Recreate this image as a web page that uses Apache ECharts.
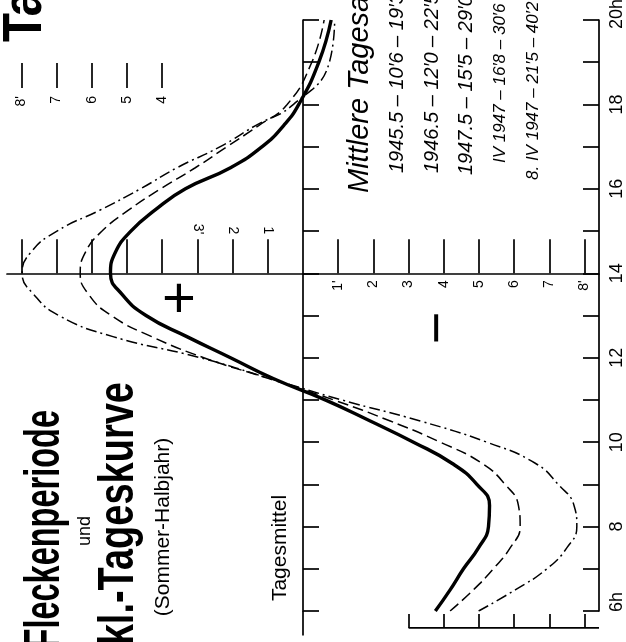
<!DOCTYPE html>
<html>
<head>
<meta charset="utf-8">
<script src="https://cdn.jsdelivr.net/npm/echarts@6/dist/echarts.min.js"></script>
<style>
  html, body { margin: 0; padding: 0; background: #fff; }
  #chart { width: 626px; height: 642px; }
</style>
</head>
<body>
<div id="chart"></div>
<script>
// hour of day and deviation from the daily mean in arc minutes (+ = left side)
const hours = [6, 6.5, 7, 7.5, 8, 8.5, 9, 9.5, 10, 10.5, 11, 11.5, 12, 12.5, 13, 13.5, 14, 14.5, 15, 15.5, 16, 16.5, 17, 17.5, 18, 19, 20];
const dev1945 = [-3.76, -4.18, -4.56, -4.99, -5.27, -5.3, -4.94, -4.23, -3.14, -1.91, -0.63, 0.83, 2.06, 3.3, 4.46, 5.14, 5.47, 5.33, 4.89, 4.2, 3.34, 2.06, 1.16, 0.55, 0.12, -0.45, -0.8];
const dev1946 = [-4.18, -4.84, -5.41, -5.89, -6.17, -6.12, -5.74, -5.08, -3.9, -2.48, -0.87, 0.95, 2.82, 4.3, 5.45, 6.09, 6.33, 6.18, 5.71, 4.95, 4.05, 3.06, 2.16, 1.26, 0.45, -0.25, -0.6];
const dev1947 = [-4.99, -6.03, -6.93, -7.5, -7.78, -7.7, -7.25, -6.6, -5.22, -3.33, -1.1, 0.91, 2.92, 5.4, 6.94, 7.65, 7.98, 7.73, 6.99, 5.76, 4.62, 3.58, 2.35, 1.35, 0.27, -0.75, -0.9];

const hourMarks = [6, 8, 10, 12, 14, 16, 18, 20];
const scaleTicks = [-8, -7, -6, -5, -4, -3, -2, -1, 1, 2, 3, 4, 5, 6, 7, 8];
const minusLabels = [-8, -7, -6, -5, -4, -3, -2, -1];
const plusNear = [1, 2, 3];
const plusFar = [4, 5, 6, 7, 8];
const rulerTicks = [-3, -4, -5, -6, -7, -8];

const legendLines = [
  '1945.5 – 10′6 – 19′3',
  '1946.5 – 12′0 – 22′5',
  '1947.5 – 15′5 – 29′0',
  'IV 1947 – 16′8 – 30′6',
  '8. IV 1947 – 21′5 – 40′2'
];

const SANS = "'Liberation Sans', Arial, sans-serif";
const VMAX = 8.41;

const pairs = vals => vals.map((v, i) => [v, hours[i]]);

const devLabel = v => {
  const a = Math.abs(v);
  if (a === 8 || (v < 0 && a === 1) || (v > 0 && a === 3)) return a + "'";
  return String(a);
};

const hourLabel = v => {
  if (v === 6) return '{e6|6h}';
  if (v === 20) return '{e20|20h}';
  return String(v);
};

const baseX = {
  type: 'value', inverse: true, min: -VMAX, max: VMAX,
  splitLine: { show: false },
  axisLine: { show: false, onZero: false },
  axisTick: { show: false },
  axisLabel: { show: false }
};
const black = { color: '#000', width: 1.7 };
const tickLabel = { color: '#000', fontSize: 14, fontFamily: SANS, rotate: 90, formatter: devLabel };

// vertical (rotated) text helper
const vt = (x, y, text, align, size, o = {}) => ({
  type: 'text', x, y, rotation: Math.PI / 2,
  scaleX: o.sx || 1, scaleY: o.sy || 1,
  style: {
    text, align, verticalAlign: 'middle', fill: '#000',
    fontSize: size, fontFamily: SANS,
    fontWeight: o.w || 'normal', fontStyle: o.it ? 'italic' : 'normal'
  }
});

const chart = echarts.init(document.getElementById('chart'));

chart.setOption({
  backgroundColor: '#fff',
  animation: false,
  grid: { left: 7, right: 27, top: 20, bottom: 31, containLabel: false, outerBoundsMode: 'none' },
  xAxis: [
    // scale line at 14h
    Object.assign({}, baseX, {
      position: 'bottom', offset: -337.7,
      axisLine: { show: true, onZero: false, lineStyle: black },
      axisTick: { show: true, inside: true, length: 34, customValues: scaleTicks, lineStyle: black },
      axisLabel: Object.assign({}, tickLabel, { show: true, margin: 7, customValues: minusLabels })
    }),
    // labels 1-3 above the 14h line
    Object.assign({}, baseX, {
      position: 'top', offset: -253.3,
      axisLabel: Object.assign({}, tickLabel, { show: true, margin: 39, customValues: plusNear })
    }),
    // ruler 4-8 at top
    Object.assign({}, baseX, {
      position: 'bottom', offset: -548,
      axisTick: { show: true, inside: false, length: 25, customValues: plusFar, lineStyle: black },
      axisLabel: Object.assign({}, tickLabel, { show: true, margin: 33, customValues: plusFar })
    }),
    // ruler at bottom
    Object.assign({}, baseX, {
      position: 'bottom', offset: 17,
      axisTick: { show: true, inside: true, length: 14, customValues: rulerTicks, lineStyle: black }
    })
  ],
  yAxis: [
    {
      type: 'value', position: 'right', min: 6, max: 20, interval: 1,
      splitLine: { show: false },
      axisLine: { show: true, onZero: false, lineStyle: black },
      axisTick: { show: true, inside: true, length: 16, lineStyle: black },
      axisLabel: {
        rotate: 90, margin: 9, color: '#000', fontSize: 18, fontFamily: SANS,
        customValues: hourMarks, showMinLabel: true, showMaxLabel: true,
        formatter: hourLabel,
        rich: {
          e6: { fontSize: 18, fontFamily: SANS, color: '#000', padding: [0, 0, 0, 18] },
          e20: { fontSize: 18, fontFamily: SANS, color: '#000', padding: [0, 0, 0, 12] }
        }
      }
    },
    {
      // Tagesmittel line
      type: 'value', position: 'left', min: 6, max: 20, interval: 1,
      splitLine: { show: false },
      axisLine: { show: true, onZero: true, onZeroAxisIndex: 0, lineStyle: black },
      axisTick: { show: true, inside: true, length: 16, lineStyle: black },
      axisLabel: { show: false }
    }
  ],
  series: [
    {
      name: '1945.5', type: 'line', smooth: 0.5, symbol: 'none', data: pairs(dev1945),
      lineStyle: { color: '#000', width: 3.4 }
    },
    {
      name: '1946.5', type: 'line', smooth: 0.5, symbol: 'none', data: pairs(dev1946),
      lineStyle: { color: '#000', width: 1.5, type: [11, 5] }
    },
    {
      name: '1947.5', type: 'line', smooth: 0.5, symbol: 'none', data: pairs(dev1947),
      lineStyle: { color: '#000', width: 1.5, type: [11, 4, 2, 4] }
    },
    {
      name: 'ruler', type: 'line', symbol: 'none', clip: false, silent: true,
      data: [[-3, 5.6], [-VMAX, 5.6]], lineStyle: black
    },
    {
      name: 'zero', type: 'line', symbol: 'none', clip: false, silent: true,
      data: [[0, 5.42], [0, 6]], lineStyle: black
    }
  ],
  graphic: [
    vt(26, 42, 'Ta', 'left', 56, { w: 'bold', sx: 0.85 }),
    vt(45, 410, 'Fleckenperiode', 'right', 50, { w: 'bold', sx: 0.65 }),
    vt(85, 531, 'und', 'center', 18),
    vt(119, 382, 'Dekl.-Tageskurve', 'right', 50, { w: 'bold', sx: 0.76 }),
    vt(163, 527, '(Sommer-Halbjahr)', 'center', 21),
    vt(280, 548, 'Tagesmittel', 'center', 21),
    vt(360, 193, 'Mittlere Tagesamplitude', 'left', 29, { it: true }),
    vt(397, 173, legendLines[0], 'left', 20, { it: true }),
    vt(432, 173, legendLines[1], 'left', 20, { it: true }),
    vt(466, 175, legendLines[2], 'left', 20, { it: true }),
    vt(500, 163, legendLines[3], 'left', 17, { it: true }),
    vt(533, 180, legendLines[4], 'left', 17, { it: true }),
    {
      type: 'text', x: 179, y: 301,
      style: { text: '+', align: 'center', verticalAlign: 'middle', fontSize: 58, fontFamily: SANS, fill: '#000' }
    },
    vt(440, 328, '−', 'center', 56)
  ]
});
</script>
</body>
</html>
